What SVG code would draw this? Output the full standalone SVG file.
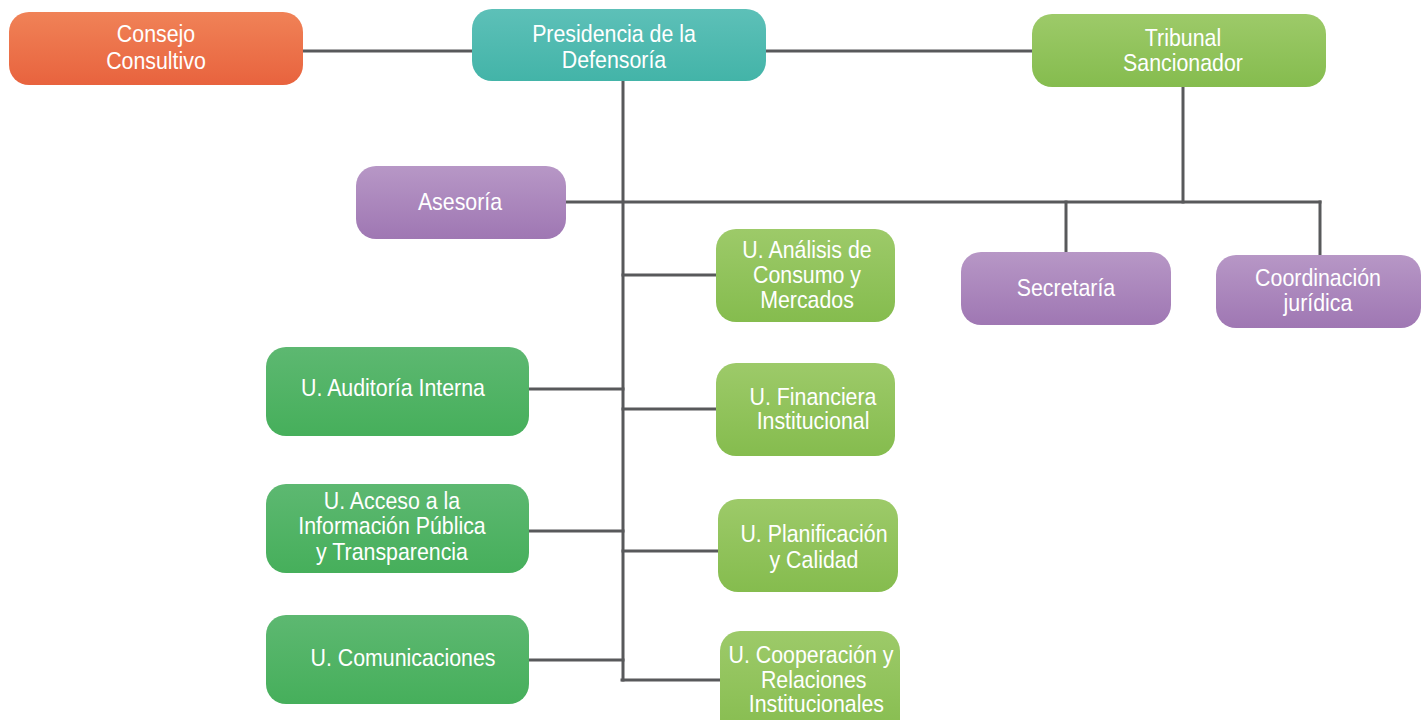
<svg xmlns="http://www.w3.org/2000/svg" width="1422" height="720" viewBox="0 0 1422 720">
<defs>
<linearGradient id="gOrange" x1="0" y1="0" x2="0" y2="1"><stop offset="0" stop-color="#f08257"/><stop offset="1" stop-color="#e8633e"/></linearGradient>
<linearGradient id="gTeal" x1="0" y1="0" x2="0" y2="1"><stop offset="0" stop-color="#5dc0b8"/><stop offset="1" stop-color="#43b4a8"/></linearGradient>
<linearGradient id="gLight" x1="0" y1="0" x2="0" y2="1"><stop offset="0" stop-color="#9dca69"/><stop offset="1" stop-color="#85bc4e"/></linearGradient>
<linearGradient id="gDark" x1="0" y1="0" x2="0" y2="1"><stop offset="0" stop-color="#5db871"/><stop offset="1" stop-color="#46af5b"/></linearGradient>
<linearGradient id="gPurple" x1="0" y1="0" x2="0" y2="1"><stop offset="0" stop-color="#b797c6"/><stop offset="1" stop-color="#9f77b3"/></linearGradient>
</defs>
<style>
.c{stroke:#58595b;stroke-width:3;fill:none;stroke-linecap:square}
.t{font-family:"Liberation Sans",Arial,sans-serif;font-size:24px;fill:#ffffff;text-anchor:middle}
</style>
<g id="connectors">
<line class="c" x1="303" y1="51" x2="472" y2="51"/>
<line class="c" x1="766" y1="51" x2="1032" y2="51"/>
<line class="c" x1="623" y1="81" x2="623" y2="680"/>
<line class="c" x1="566" y1="202" x2="1320" y2="202"/>
<line class="c" x1="1183" y1="87" x2="1183" y2="202"/>
<line class="c" x1="1066" y1="202" x2="1066" y2="252"/>
<line class="c" x1="1320" y1="202" x2="1320" y2="255"/>
<line class="c" x1="623" y1="275" x2="716" y2="275"/>
<line class="c" x1="529" y1="389" x2="623" y2="389"/>
<line class="c" x1="623" y1="409" x2="716" y2="409"/>
<line class="c" x1="529" y1="531" x2="623" y2="531"/>
<line class="c" x1="623" y1="551" x2="718" y2="551"/>
<line class="c" x1="529" y1="660" x2="623" y2="660"/>
<line class="c" x1="622" y1="680" x2="720" y2="680"/>
</g>
<g id="consejo">
<rect x="9" y="12" width="294" height="73" rx="20" fill="url(#gOrange)"/>
<text class="t" transform="translate(156 0) scale(0.89 1)"><tspan x="0" y="42">Consejo</tspan><tspan x="0" y="69.5">Consultivo</tspan></text>
</g>
<g id="presidencia">
<rect x="472" y="9" width="294" height="72" rx="20" fill="url(#gTeal)"/>
<text class="t" transform="translate(614 0) scale(0.89 1)"><tspan x="0" y="42.5">Presidencia de la</tspan><tspan x="0" y="68">Defensoría</tspan></text>
</g>
<g id="tribunal">
<rect x="1032" y="14" width="294" height="73" rx="20" fill="url(#gLight)"/>
<text class="t" transform="translate(1183 0) scale(0.89 1)"><tspan x="0" y="46.5">Tribunal</tspan><tspan x="0" y="71.5">Sancionador</tspan></text>
</g>
<g id="asesoria">
<rect x="356" y="166" width="210" height="73" rx="20" fill="url(#gPurple)"/>
<text class="t" transform="translate(460 0) scale(0.89 1)"><tspan x="0" y="210">Asesoría</tspan></text>
</g>
<g id="secretaria">
<rect x="961" y="252" width="210" height="73" rx="20" fill="url(#gPurple)"/>
<text class="t" transform="translate(1066 0) scale(0.89 1)"><tspan x="0" y="296">Secretaría</tspan></text>
</g>
<g id="coordinacion">
<rect x="1216" y="255" width="205" height="73" rx="20" fill="url(#gPurple)"/>
<text class="t" transform="translate(1318 0) scale(0.89 1)"><tspan x="0" y="286">Coordinación</tspan><tspan x="0" y="311.5">jurídica</tspan></text>
</g>
<g id="analisis">
<rect x="716" y="229" width="179" height="93" rx="20" fill="url(#gLight)"/>
<text class="t" transform="translate(807 0) scale(0.89 1)"><tspan x="0" y="258.5">U. Análisis de</tspan><tspan x="0" y="283.5">Consumo y</tspan><tspan x="0" y="308.5">Mercados</tspan></text>
</g>
<g id="auditoria">
<rect x="266" y="347" width="263" height="89" rx="20" fill="url(#gDark)"/>
<text class="t" transform="translate(393 0) scale(0.89 1)"><tspan x="0" y="396.5">U. Auditoría Interna</tspan></text>
</g>
<g id="financiera">
<rect x="716" y="363" width="179" height="93" rx="20" fill="url(#gLight)"/>
<text class="t" transform="translate(813 0) scale(0.89 1)"><tspan x="0" y="405">U. Financiera</tspan><tspan x="0" y="429.5">Institucional</tspan></text>
</g>
<g id="acceso">
<rect x="266" y="484" width="263" height="89" rx="20" fill="url(#gDark)"/>
<text class="t" transform="translate(392 0) scale(0.89 1)"><tspan x="0" y="509">U. Acceso a la</tspan><tspan x="0" y="534.5">Información Pública</tspan><tspan x="0" y="560">y Transparencia</tspan></text>
</g>
<g id="planificacion">
<rect x="718" y="499" width="180" height="93" rx="20" fill="url(#gLight)"/>
<text class="t" transform="translate(814 0) scale(0.89 1)"><tspan x="0" y="542.5">U. Planificación</tspan><tspan x="0" y="568">y Calidad</tspan></text>
</g>
<g id="comunicaciones">
<rect x="266" y="615" width="263" height="89" rx="20" fill="url(#gDark)"/>
<text class="t" transform="translate(403 0) scale(0.89 1)"><tspan x="0" y="666">U. Comunicaciones</tspan></text>
</g>
<g id="cooperacion">
<rect x="720" y="631" width="180" height="110" rx="20" fill="url(#gLight)"/>
<text class="t" transform="translate(811 0) scale(0.89 1)"><tspan x="0" y="663">U. Cooperación y</tspan><tspan x="3" y="688">Relaciones</tspan><tspan x="6" y="712">Institucionales</tspan></text>
</g>
</svg>
